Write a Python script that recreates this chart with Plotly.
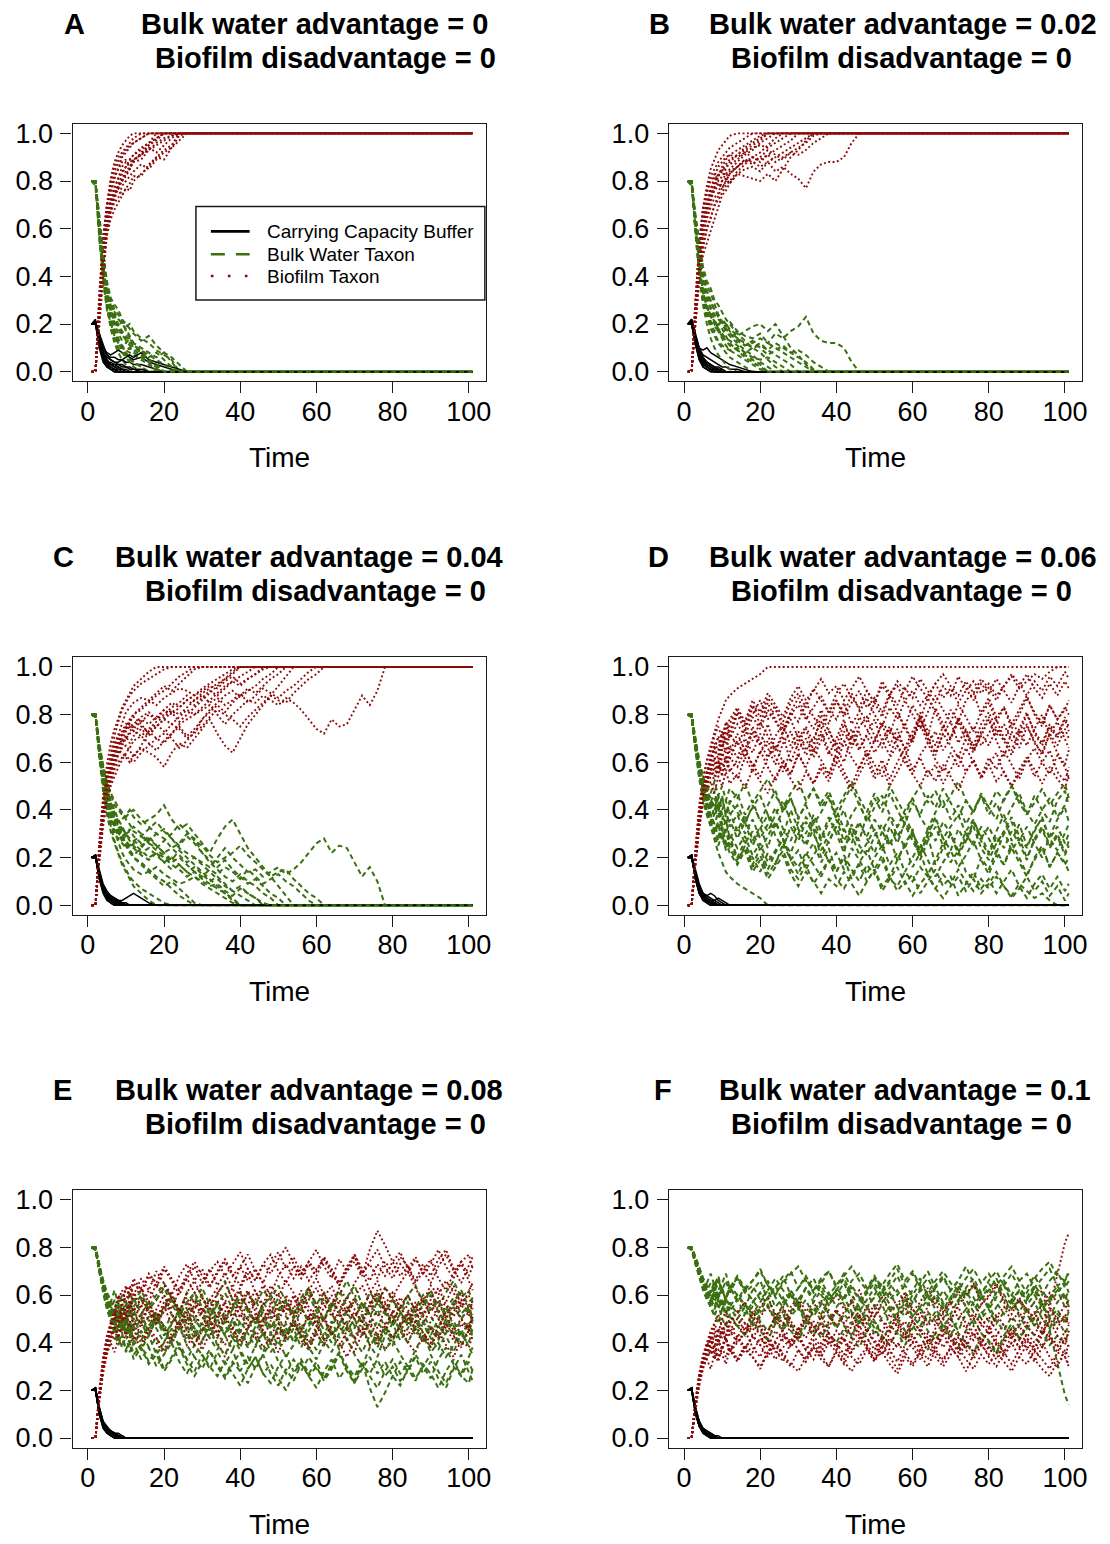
import plotly.graph_objects as go

W, H = 1110, 1544
FONT = "Liberation Sans, Arial, Helvetica, sans-serif"

# sample times (every step early on, every 2nd step afterwards)
TIME = list(range(1, 13)) + list(range(14, 101, 2)) + [101]

X_TICKS = [0, 20, 40, 60, 80, 100]
Y_TICKS = [0.0, 0.2, 0.4, 0.6, 0.8, 1.0]
Y_TICK_TEXT = ["0.0", "0.2", "0.4", "0.6", "0.8", "1.0"]

LETTERS = ["A", "B", "C", "D", "E", "F"]
BULK_ADVANTAGE = ["0", "0.02", "0.04", "0.06", "0.08", "0.1"]
BIOFILM_DISADVANTAGE = ["0", "0", "0", "0", "0", "0"]
LEGEND_LABELS = ["Carrying Capacity Buffer", "Bulk Water Taxon", "Biofilm Taxon"]

# ---- values in percent of carrying capacity, one list per simulation run ----
# runs listed only up to extinction (absorbing state 0) are held there afterwards
A_BULK = [
    [80,80,58,40,28,18,12,8,5,3,1,0],
    [80,80,62,45,32,24,18,14,10,8,6,4,2,0],
    [80,80,60,44,34,28,25,22,20,18,15,12,8,5,2,0],
    [80,79,64,48,36,30,26,24,21,19,20,17,14,12,9,7,5,0],
    [80,80,60,42,30,22,17,13,11,9,8,7,5,3,1,0],
    [80,79,66,50,38,31,28,26,22,20,18,16,13,15,11,8,6,3,0],
    [80,78,56,38,26,20,15,12,10,9,10,8,6,4,0],
    [80,79,63,46,34,27,22,19,21,17,14,12,10,8,6,8,4,0],
    [80,80,59,41,29,21,16,12,9,7,5,4,2,0],
    [80,79,61,43,31,25,21,18,15,14,12,11,9,7,5,3,1,0],
    [80,80,57,39,27,19,14,10,8,6,4,2,0],
    [80,79,62,47,37,29,24,19,16,13,11,9,7,4,2,0],
    [80,80,60,45,33,26,20,16,13,12,14,11,9,6,8,5,2,0],
    [80,79,65,49,35,27,23,20,17,15,13,10,8,5,3,0],
]
A_BUFFER = [
    [20,20,12,5,2,1,0],
    [20,20,15,8,4,2,1,0],
    [20,20,10,4,2,1,1,0],
    [20,21,14,9,7,6,6,5,5,4,4,3,3,2,1,0],
    [20,20,16,10,8,7,8,9,8,7,6,5,6,4,3,2,1,0],
    [20,21,13,6,3,2,1,1,0],
    [20,22,11,5,4,4,3,3,2,2,1,1,0],
    [20,21,15,8,6,5,4,4,5,6,7,6,8,5,4,3,2,1,0],
    [20,20,13,6,3,1,0],
    [20,21,12,7,5,3,2,1,1,0],
    [20,20,14,7,3,1,0],
    [20,21,12,6,4,3,2,2,1,1,0],
    [20,20,13,8,5,3,3,2,1,0],
    [20,21,16,11,7,5,4,3,3,2,2,1,1,0],
]

B_BULK = [
    [80,79,62,46,36,30,27,24,22,20,19,21,17,15,14,16,12,10,8,6,4,2,0],
    [80,78,64,50,40,34,30,26,23,21,18,16,13,11,12,14,12,16,14,17,19,23,16,13,12,12,10,4,0],
    [80,80,60,42,30,24,20,17,20,18,15,12,9,7,5,3,0],
    [80,79,65,52,42,36,33,28,24,21,20,18,15,17,19,20,17,20,15,10,7,3,0],
    [80,80,58,40,28,20,14,10,7,5,3,1,0],
    [80,79,63,48,38,32,26,22,18,15,13,11,9,6,4,2,0],
    [80,78,61,44,33,27,23,21,19,22,20,17,14,12,10,11,9,12,10,8,9,7,4,2,0],
    [80,80,59,41,29,23,18,15,12,10,8,6,4,2,0],
    [80,79,66,54,44,38,35,30,28,25,22,20,16,13,10,8,5,2,0],
    [80,80,62,45,34,26,21,16,13,11,10,9,10,8,6,5,6,4,2,0],
    [80,80,61,44,33,27,24,21,18,16,14,13,11,8,10,12,9,7,5,3,0],
    [80,79,64,49,39,33,29,26,24,20,17,15,12,9,7,4,2,0],
    [80,80,60,43,31,25,21,19,17,15,18,16,14,11,13,10,7,9,11,8,6,4,1,0],
    [80,79,63,47,35,28,24,20,17,14,11,9,7,5,3,1,0],
]
B_BUFFER = [
    [20,21,13,6,3,2,1,0],
    [20,22,16,10,7,6,5,4,3,2,2,1,1,0],
    [20,20,11,5,2,1,0],
    [20,21,15,10,9,10,8,7,6,5,4,3,2,1,0],
    [20,20,12,6,3,2,1,1,0],
    [20,21,14,8,5,3,2,1,0],
    [20,22,15,9,6,4,3,2,2,1,0],
    [20,20,12,5,2,1,0],
    [20,21,13,7,4,2,1,0],
    [20,20,14,8,5,4,3,2,1,1,0],
    [20,20,13,6,3,2,1,0],
    [20,21,14,8,5,3,2,1,1,0],
    [20,20,12,7,4,3,2,1,0],
    [20,21,13,9,6,4,3,2,1,0],
]

C_BULK = [
    [80,79,68,58,50,44,40,36,33,30,28,27, 25,27,30,32,28,24,22,20,18,16,20,
     24,20,17,14,15,12,14,16,13,15,18, 22,26,28,22,25,24,18,12,16,10,0],
    [80,80,66,56,48,42,38,35,36,38,40,37, 34,36,38,42,36,32,34,30,26,22,28,
     33,36,30,24,20,16,12,8,4,0],
    [80,79,65,54,46,40,35,31,28,25,22,20, 18,15,12,10,7,4,2,0],
    [80,80,67,57,49,43,39,35,32,30,31,33, 30,26,24,27,30,34,31,27,25,21,18,
     20,22,25,21,18,15,12,14,15,11,8, 5,3,0],
    [80,79,63,50,40,33,27,22,18,15,12,10, 7,5,3,1,0],
    [80,80,66,55,47,41,37,34,30,27,25,24, 21,19,22,20,17,15,12,14,11,9,7,
     5,3,0],
    [80,79,64,52,44,38,34,30,27,25,23,21, 24,28,25,22,24,26,30,28,22,18,15,
     12,10,13,10,8,5,3,0],
    [80,80,62,48,38,31,26,21,17,14,11,8, 5,2,0],
    [80,79,67,58,51,46,42,40,38,37,39,40, 36,33,30,28,24,21,18,20,17,14,11,
     8,6,4,2,0],
    [80,80,65,53,45,37,31,26,22,19,17,15, 13,14,16,13,11,9,10,12,10,8,9,
     6,4,7,5,3,0],
    [80,80,64,51,41,34,30,28,26,24,25,27, 29,26,23,21,18,20,17,14,12,15,13,
     16,14,11,15,12,9,11,13,10,8,5, 2,0],
    [80,79,66,56,48,42,37,33,29,26,23,20, 17,14,11,8,10,7,4,1,0],
    [80,80,66,55,46,40,36,33,31,29,32,29, 26,29,25,22,19,23,20,17,14,11,8,
     5,2,0],
    [80,79,65,54,45,39,34,31,28,26,24,26, 23,20,22,18,15,17,14,12,9,7,5,
     3,1,0],
    [80,80,68,59,52,47,44,41,39,36,34,31, 29,32,35,31,28,25,29,26,22,19,16,
     19,15,12,9,11,8,5,3,0],
    [80,79,64,52,43,37,33,29,32,30,27,25, 22,24,21,18,20,17,14,16,13,10,12,
     9,6,8,5,3,1,0],
]
C_BUFFER = [
    [20,21,12,6,3,1,0],
    [20,20,13,7,4,2,1,0],
    [20,21,11,5,2,1,0],
    [20,20,14,8,5,4,3,2,2,3,4,5,3,1,0],
    [20,21,12,6,4,3,2,1,0],
    [20,20,13,7,5,4,3,2,1,0],
    [20,21,15,9,6,4,3,2,1,1,0],
    [20,20,12,6,3,1,0],
    [20,21,13,6,3,2,1,0],
    [20,20,14,8,4,3,2,2,1,0],
    [20,20,11,6,4,3,2,1,1,0],
    [20,21,12,6,3,2,1,0],
    [20,20,13,7,4,2,1,0],
    [20,21,12,6,3,2,1,1,0],
    [20,20,14,8,5,3,2,1,0],
    [20,21,12,7,4,3,2,1,0],
]

D_BULK = [
    [80,79,66,54,45,38,33,27,22,18,14,12, 9,7,5,3,0],
    [80,80,70,60,52,47,44,40,45,38,34,39,
     31,38,27,33,24,35,29,40,32,26,36, 28,37,30,22,34,27,38,31,24,33,26,
     35,29,21,30,37,28,23,32,26,35,29, 22,31,38,27,34,25,31,37,28,33,26, 30],
    [80,79,68,57,49,44,40,45,39,46,37,43,
     47,38,44,35,42,48,39,45,36,43,49, 41,46,37,44,50,42,36,45,39,47,40,
     34,43,38,46,41,49,43,37,44,39,47, 41,36,45,50,43,38,46,40,35,44,48, 42],
    [80,80,67,55,47,40,36,31,35,28,24,29,
     20,27,17,24,15,22,28,19,13,21,26, 18,24,14,20,11,18,23,15,21,12,19,
     25,16,22,13,19,26,18,23,14,11,20, 15,23,17,26,20,13,19,24,16,22,18, 14],
    [80,79,69,59,51,46,43,48,41,45,38,44,
     39,34,42,36,31,38,44,35,30,37,33, 27,35,40,32,26,34,29,36,31,25,33,
     38,30,24,32,27,35,30,23,31,36,28, 33,26,31,37,29,24,32,36,28,23,30, 34],
    [80,80,66,56,48,41,36,32,27,33,26,30,
     24,29,21,26,18,23,28,20,16,22,17, 12,19,14,21,15,10,17,13,19,11,8,
     14,10,16,12,7,13,9,15,10,6,11, 7,12,8,4,9,6,3,5,2,0,0, 0],
    [80,79,67,58,50,45,41,37,42,34,30,36,
     28,35,25,32,38,29,24,33,27,35,30, 23,30,36,27,33,25,21,29,34,26,31,
     24,32,19,27,33,25,30,22,28,35,27, 21,29,24,31,26,19,28,33,25,30,22, 27],
    [80,80,68,58,51,46,42,38,43,36,40,33,
     38,30,36,28,34,41,32,27,35,30,38, 31,26,34,40,29,35,28,22,31,37,29,
     34,27,21,30,36,28,33,38,30,25,33, 28,22,30,35,27,33,26,20,29,36,41, 35],
    [80,79,65,53,44,38,34,29,25,30,23,27,
     19,24,16,21,13,18,23,15,11,17,9, 14,19,11,7,13,17,10,15,6,11,16,
     9,13,5,10,15,8,12,4,9,14,7, 11,5,10,15,8,3,9,13,7,12,6, 9],
    [80,80,70,61,54,50,47,52,46,50,44,49,
     45,51,43,48,53,46,41,47,52,44,49, 43,48,40,46,52,45,39,47,42,50,44,
     38,45,50,43,48,41,46,52,44,39,46, 41,48,44,50,45,38,43,49,42,47,51, 45],
    [80,79,68,58,50,43,38,34,39,31,36,28,
     33,26,31,23,29,35,27,22,30,25,32, 20,27,33,24,30,21,26,32,23,28,19,
     26,31,22,29,17,24,30,21,27,33,24, 19,26,31,23,28,20,27,32,24,29,21, 25],
    [80,80,69,60,53,48,45,41,46,40,44,38,
     42,35,41,46,38,33,40,45,37,42,34, 39,45,36,31,38,43,35,41,46,38,33,
     40,45,37,32,39,44,36,42,34,40,46, 38,43,35,41,47,39,34,40,45,37,42, 47],
    [80,79,66,55,46,40,35,30,34,27,32,24,
     18,25,20,14,22,17,26,19,23,15,21, 26,18,22,15,24,19,13,20,25,17,22,
     14,20,26,19,12,18,23,16,21,27,19, 13,21,17,24,18,12,20,25,16,22,17, 20],
    [80,80,67,57,49,43,38,34,29,33,26,22,
     17,23,14,19,11,16,21,13,8,14,10, 5,11,8,14,9,4,10,15,8,12,6,
     10,4,9,13,7,3,8,12,6,11,5, 9,14,8,3,7,12,6,10,4,8,2, 5],
]
D_BUFFER = [
    [20,21,11,5,2,1,0],
    [20,20,13,6,3,1,0],
    [20,21,12,7,4,3,2,1,0],
    [20,20,14,8,5,4,5,4,2,1,0],
    [20,21,12,5,2,1,0],
    [20,20,13,7,4,3,2,2,3,2,1,0],
    [20,21,15,9,5,3,2,1,0],
    [20,20,12,6,3,2,1,0],
    [20,21,11,5,3,2,1,0],
    [20,20,13,6,3,2,1,1,0],
    [20,21,12,6,3,2,1,0],
    [20,20,14,8,4,2,1,1,0],
    [20,21,13,7,5,4,3,2,1,0],
    [20,20,11,5,3,2,1,0],
]

E_BULK = [
    [80,80,72,64,58,53,49,55,47,52,45,50,
     44,51,46,40,48,53,45,39,47,42,50, 43,37,45,51,42,36,44,49,40,46,38,
     45,50,41,36,44,49,42,47,39,34,43, 48,41,46,52,44,38,47,43,36,44,49, 42],
    [80,79,71,63,57,53,58,52,56,50,55,59,
     52,57,50,55,61,53,48,56,60,52,57, 50,55,61,54,48,57,52,59,51,46,54,
     60,53,49,56,62,55,50,57,52,59,54, 48,55,60,53,58,51,46,54,59,52,56, 50],
    [80,80,73,65,60,55,51,47,52,44,48,41,
     37,43,35,40,46,38,33,39,35,29,36, 31,37,28,34,29,35,40,32,27,33,28,
     34,29,25,31,36,30,26,32,21,13,19, 26,32,28,35,30,25,33,38,31,27,34, 38],
    [80,79,70,62,55,50,46,42,47,44,49,45,
     50,45,52,47,42,49,54,46,41,48,53, 47,42,49,44,38,46,51,43,48,40,45,
     51,44,39,47,52,45,50,43,48,54,46, 41,47,52,45,49,43,50,55,47,42,48, 44],
    [80,80,72,66,61,57,62,56,60,55,61,57,
     62,55,60,65,58,53,61,57,63,56,60, 66,58,54,61,56,62,58,64,57,52,59,
     63,56,61,55,60,66,59,54,61,57,63, 58,53,60,64,57,62,55,61,66,59,62, 57],
    [80,80,71,63,56,51,46,42,38,43,36,40,
     33,38,30,35,40,32,27,34,29,36,31, 26,32,28,23,30,35,27,22,29,24,31,
     26,21,28,33,25,30,23,29,34,27,32, 26,22,29,24,31,27,21,28,33,26,23, 29],
    [80,79,72,65,59,55,51,56,49,53,47,53,
     48,43,50,45,52,47,41,48,53,46,42, 49,44,38,46,51,44,40,47,42,49,43,
     37,45,50,43,48,41,46,52,45,40,47, 42,48,53,46,41,47,43,50,44,39,46, 51],
    [80,80,73,66,61,58,54,50,55,51,57,52,
     58,53,47,54,59,52,57,50,45,51,56, 49,54,48,53,58,51,46,52,57,50,55,
     48,53,59,52,47,54,58,51,56,61,53, 47,52,57,51,56,60,53,48,55,50,54, 48],
    [80,79,70,61,54,49,45,40,44,37,41,35,
     39,32,37,29,34,40,33,28,35,30,26, 32,27,22,29,34,27,31,25,20,27,32,
     26,30,24,29,35,28,23,31,27,33,26, 30,24,28,34,27,32,25,21,29,35,28, 24],
    [80,80,71,64,58,53,49,45,51,46,42,48,
     52,45,50,43,48,54,47,42,49,55,48, 43,50,45,39,47,53,46,51,44,49,42,
     47,52,45,40,48,53,47,51,44,38,46, 51,45,40,47,52,46,41,48,43,50,55, 49],
    [80,79,71,64,57,52,48,53,46,50,44,39,
     45,38,42,36,41,47,39,34,41,46,39, 35,42,37,31,39,44,36,41,34,39,45,
     38,33,40,45,37,42,35,30,38,44,37, 41,35,30,37,43,36,40,34,39,45,38, 35],
    [80,80,72,65,60,56,52,58,53,57,51,55,
     60,54,58,63,56,51,57,61,55,50,56, 61,54,59,53,48,55,60,54,58,52,57,
     62,55,50,57,53,59,64,56,51,57,52, 58,53,48,55,60,54,58,52,57,62,55, 59],
    [80,79,70,62,55,49,44,39,43,36,40,33,
     38,31,35,28,33,38,31,26,32,37,30, 25,31,36,29,34,27,23,30,35,28,33,
     27,32,25,30,36,29,24,31,26,21,28, 33,27,31,25,30,35,28,23,30,26,32, 28],
    [80,80,72,64,57,52,47,51,45,49,43,47,
     41,47,52,45,40,46,51,44,48,42,37, 44,49,43,38,45,50,44,39,46,41,48,
     42,37,44,49,42,47,41,36,43,49,44, 39,45,50,43,48,42,37,44,49,43,40, 46],
]
E_BUFFER = [
    [20,20,10,5,3,2,1,0],
    [20,21,12,6,3,2,1,1,0],
    [20,20,11,6,4,3,2,1,0],
    [20,21,10,4,2,1,0],
    [20,20,12,7,4,3,2,2,1,0],
    [20,20,11,5,3,2,1,0],
    [20,21,13,7,5,3,2,1,0],
    [20,20,10,5,2,1,0],
    [20,21,11,6,4,3,2,1,1,0],
    [20,20,12,6,3,2,1,0],
    [20,21,12,6,3,2,1,0],
    [20,20,11,6,4,2,1,0],
    [20,21,13,7,4,3,2,1,0],
    [20,20,10,5,3,1,0],
]

F_BULK = [
    [80,80,75,69,66,63,60,65,59,63,58,64,
     60,55,62,66,58,63,68,60,56,63,59, 64,58,62,67,60,55,61,65,59,63,68,
     61,57,63,67,61,56,62,66,60,64,58, 62,67,60,56,62,58,63,57,45,32,18, 14],
    [80,79,74,68,64,60,56,61,54,58,52,57,
     52,57,49,54,59,51,47,53,58,50,55, 49,54,46,52,57,50,45,51,56,48,53,
     58,51,47,53,49,55,50,45,52,57,50, 54,48,53,58,51,46,52,56,50,54,48, 52],
    [80,80,76,71,67,65,69,64,68,62,66,61,
     67,62,66,71,64,60,66,70,63,67,61, 65,70,63,59,66,69,63,68,62,66,71,
     64,60,65,70,63,67,62,66,72,65,60, 66,70,64,60,66,69,63,67,71,64,66, 69],
    [80,79,73,67,62,58,55,51,56,50,47,52,
     47,43,49,45,41,48,52,45,41,47,43, 49,44,40,46,42,38,45,49,43,39,45,
     41,47,43,37,44,48,42,38,45,50,44, 40,35,42,46,41,47,43,38,45,50,44, 47],
    [80,80,75,70,65,62,58,63,67,61,58,63,
     58,63,57,61,66,59,55,62,57,63,67, 60,56,62,58,64,59,54,60,65,58,62,
     57,62,67,60,56,62,57,63,59,64,60, 55,61,66,60,57,63,68,62,57,61,65, 61],
    [80,79,74,69,64,61,57,54,59,63,57,53,
     58,52,57,61,55,50,56,60,54,58,51, 56,61,55,59,53,48,55,59,62,56,52,
     57,51,55,60,54,50,56,61,55,59,53, 49,55,59,54,58,52,47,54,58,62,55, 58],
    [80,80,74,70,66,64,61,66,62,65,69,63,
     68,63,66,70,64,60,65,69,72,66,62, 67,70,64,68,72,66,62,67,64,69,73,
     66,70,64,61,66,70,65,62,67,71,65, 69,64,68,72,66,61,67,71,74,68,66, 70],
    [80,79,73,68,63,59,55,52,48,54,57,51,
     47,52,55,49,45,51,54,48,43,50,47, 42,48,53,47,43,49,52,46,41,47,44,
     39,46,50,45,41,47,51,44,40,35,44, 41,36,43,48,42,46,50,44,39,43,40, 45],
    [80,80,75,70,64,60,57,62,58,54,59,55,
     60,56,52,57,62,55,59,53,58,63,57, 52,58,62,56,51,57,61,55,59,54,49,
     55,60,54,58,63,57,52,58,62,56,60, 54,59,64,57,53,58,62,56,51,57,61, 55],
    [80,79,74,68,63,59,62,57,61,55,59,64,
     57,62,58,53,59,64,57,61,55,50,57, 62,56,60,65,58,53,58,63,57,61,55,
     51,57,62,56,60,54,59,64,58,53,59, 63,57,52,58,62,56,60,55,59,64,58, 62],
    [80,80,76,71,67,63,59,55,60,56,51,55,
     50,55,47,52,56,49,45,51,55,48,53, 57,51,46,52,48,54,49,44,51,55,49,
     45,51,55,48,53,47,43,50,54,48,52, 56,49,45,51,47,53,57,50,46,52,49, 53],
    [80,79,75,70,66,62,65,61,66,62,58,63,
     67,61,64,58,62,67,62,58,63,68,62, 66,60,64,69,63,58,62,67,61,65,60,
     64,69,63,59,64,68,62,57,63,67,61, 65,60,64,69,63,59,64,60,66,70,63, 66],
]
F_BUFFER = [
    [20,20,11,5,3,2,1,0],
    [20,21,12,6,3,2,1,1,0],
    [20,20,10,5,3,2,2,1,0],
    [20,21,13,7,4,3,2,1,0],
    [20,20,11,6,3,1,0],
    [20,21,12,6,4,2,1,0],
    [20,20,12,7,4,3,2,1,1,0],
    [20,21,11,5,2,1,0],
    [20,20,12,6,3,2,1,0],
    [20,21,11,5,3,1,0],
    [20,20,13,7,4,2,1,1,0],
    [20,21,10,5,2,1,0],
]

PANELS = [
    (A_BULK, A_BUFFER), (B_BULK, B_BUFFER), (C_BULK, C_BUFFER),
    (D_BULK, D_BUFFER), (E_BULK, E_BUFFER), (F_BULK, F_BUFFER),
]

BLACK = "#000000"
GREEN = "#3b7010"
RED = "#8b0a0a"


def full_run(vals):
    vals = list(vals)
    assert len(vals) <= len(TIME), len(vals)
    # extinct runs stay in their absorbing state
    return vals + [vals[-1]] * (len(TIME) - len(vals))


# ---- geometry (pixels) ----
COL_BOX = [(73.0, 488.2), (672.4, 1087.6)]
ROW_BOX = [(119.7, 378.9), (657.1, 916.3), (1193.7, 1452.9)]


def px(x):
    return x / W


def py(y):
    return 1 - y / H


fig = go.Figure()
layout = dict(
    width=W, height=H, margin=dict(l=0, r=0, t=0, b=0),
    paper_bgcolor="white", plot_bgcolor="white", showlegend=False,
    font=dict(family=FONT, color="black"),
)
annotations = []
shapes = []

for p, (bulk_runs, buffer_runs) in enumerate(PANELS):
    row, col = divmod(p, 2)
    k = p + 1
    xa = "x" if k == 1 else f"x{k}"
    ya = "y" if k == 1 else f"y{k}"
    for bulk, buf in zip(bulk_runs, buffer_runs):
        b = full_run(bulk)
        c = full_run(buf)
        film = [100 - u - v for u, v in zip(b, c)]
        fig.add_trace(go.Scatter(x=TIME, y=[v / 100 for v in c], mode="lines",
                                 line=dict(color=BLACK, width=1.5),
                                 xaxis=xa, yaxis=ya, hoverinfo="skip"))
        fig.add_trace(go.Scatter(x=TIME, y=[v / 100 for v in b], mode="lines",
                                 line=dict(color=GREEN, width=2.0, dash="5px,3.5px"),
                                 xaxis=xa, yaxis=ya, hoverinfo="skip"))
        fig.add_trace(go.Scatter(x=TIME, y=[v / 100 for v in film], mode="lines",
                                 line=dict(color=RED, width=1.9, dash="1.9px,2.5px"),
                                 xaxis=xa, yaxis=ya, hoverinfo="skip"))

    x0, x1 = COL_BOX[col]
    y0, y1 = ROW_BOX[row]
    axis_common = dict(showgrid=False, zeroline=False, showline=True, mirror=True,
                       linecolor="#1a1a1a", linewidth=1.4, ticks="outside",
                       ticklen=11, tickwidth=1.4, tickcolor="#1a1a1a",
                       tickfont=dict(family=FONT, size=27, color="black"),
                       fixedrange=True)
    layout["xaxis" if k == 1 else f"xaxis{k}"] = dict(
        axis_common, domain=[px(x0), px(x1)], range=[-4.0, 104.4],
        tickvals=X_TICKS, anchor=ya, ticklabelstandoff=-5)
    layout["yaxis" if k == 1 else f"yaxis{k}"] = dict(
        axis_common, domain=[py(y1), py(y0)], range=[-0.04, 1.04],
        tickvals=Y_TICKS, ticktext=Y_TICK_TEXT, anchor=xa, ticklabelstandoff=2)

    # axis title
    xc = (x0 + x1) / 2
    annotations.append(dict(text="Time", x=px(xc), y=py(y1 + 77), xref="paper", yref="paper",
                            showarrow=False, xanchor="center", yanchor="middle",
                            font=dict(family=FONT, size=28, color="black")))

# panel titles
TITLE1_RIGHT = [493, 1105, 508, 1105, 508, 1099]
LETTER_LEFT = [62, 651, 51, 650, 51, 656]
TITLE2_CENTER = [327, 906, 317, 906, 317, 906]
TITLE_Y = [(19, 53), (556, 590), (1093, 1127)]
for p in range(6):
    row = p // 2
    y1t, y2t = TITLE_Y[row]
    tf = dict(family=FONT, size=29, color="black")
    annotations.append(dict(text=f"<b>{LETTERS[p]}</b>", x=px(LETTER_LEFT[p]), y=py(y1t),
                            xref="paper", yref="paper", showarrow=False,
                            xanchor="left", yanchor="middle", font=tf))
    annotations.append(dict(text=f"<b>Bulk water advantage = {BULK_ADVANTAGE[p]}</b>",
                            x=px(TITLE1_RIGHT[p]), y=py(y1t), xref="paper", yref="paper",
                            showarrow=False, xanchor="right", yanchor="middle", font=tf))
    annotations.append(dict(text=f"<b>Biofilm disadvantage = {BIOFILM_DISADVANTAGE[p]}</b>",
                            x=px(TITLE2_CENTER[p]), y=py(y2t), xref="paper", yref="paper",
                            showarrow=False, xanchor="center", yanchor="middle", font=tf))

# legend (panel A)
LG = dict(x0=197, x1=487.5, y0=203, y1=297)
shapes.append(dict(type="rect", xref="paper", yref="paper",
                   x0=px(LG["x0"]), x1=px(LG["x1"]), y0=py(LG["y1"]), y1=py(LG["y0"]),
                   line=dict(color="#1a1a1a", width=1.5), fillcolor="white", layer="above"))
LEG_Y = [228, 251, 273]
LEG_STYLE = [dict(color=BLACK, width=2.6),
             dict(color=GREEN, width=2.6, dash="14px,11px"),
             dict(color=RED, width=2.6, dash="2.6px,14.4px")]
for yy, st, lab in zip(LEG_Y, LEG_STYLE, LEGEND_LABELS):
    shapes.append(dict(type="line", xref="paper", yref="paper",
                       x0=px(212), x1=px(251), y0=py(yy), y1=py(yy), line=st, layer="above"))
    annotations.append(dict(text=lab, x=px(266), y=py(yy), xref="paper", yref="paper",
                            showarrow=False, xanchor="left", yanchor="middle",
                            font=dict(family=FONT, size=19, color="black")))

layout["annotations"] = annotations
layout["shapes"] = shapes
fig.update_layout(**layout)

fig.write_html("out.html", config={"displayModeBar": False},
               post_script="document.body.style.margin='0';document.body.style.padding='0';")
